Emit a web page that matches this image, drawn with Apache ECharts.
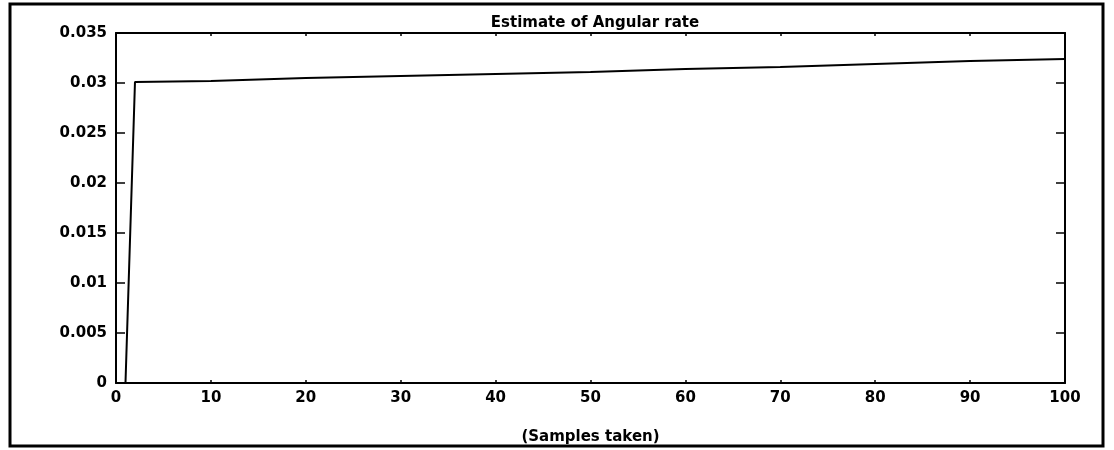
<!DOCTYPE html>
<html>
<head>
<meta charset="utf-8">
<script src="https://cdn.jsdelivr.net/npm/echarts@6/dist/echarts.min.js"></script>
<style>
html,body{margin:0;padding:0;background:#fff;}
#chart{width:1114px;height:450px;}
</style>
</head>
<body>
<div id="chart"></div>
<script>
var titleText = 'Estimate of Angular rate';
var xAxisName = '(Samples taken)';
var samples = [1, 2, 10, 20, 30, 40, 50, 60, 70, 80, 90, 100];
var rate = [0, 0.0301, 0.0302, 0.0305, 0.0307, 0.0309, 0.0311, 0.0314, 0.0316, 0.0319, 0.0322, 0.0324];
var yTickLabels = ['0', '0.005', '0.01', '0.015', '0.02', '0.025', '0.03', '0.035'];

var data = samples.map(function (s, i) { return [s, rate[i]]; });
var chart = echarts.init(document.getElementById('chart'), null, {renderer: 'canvas'});
var font = {fontFamily: 'DejaVu Sans', fontWeight: 'bold', fontSize: 15, color: '#000'};
var axisLineStyle = {show: true, onZero: false, lineStyle: {color: '#000', width: 2}};
chart.setOption({
  animation: false,
  backgroundColor: '#fff',
  title: {
    text: titleText, left: 590, top: 11, textAlign: 'center',
    textStyle: Object.assign({}, font, {fontSize: 15})
  },
  grid: {left: 116, right: 49, top: 33, bottom: 61},
  graphic: [{
    type: 'rect', shape: {x: 10, y: 4, width: 1093, height: 442},
    style: {fill: 'none', stroke: '#000', lineWidth: 3}, z: 100
  }],
  xAxis: [{
    type: 'value', min: 0, max: 100, interval: 10,
    name: xAxisName, nameLocation: 'middle', nameGap: 47,
    nameTextStyle: font,
    axisLine: axisLineStyle,
    axisTick: {inside: true, length: 3, lineStyle: {color: '#000', width: 1.5}},
    axisLabel: Object.assign({margin: 8}, font),
    splitLine: {show: false}
  }, {
    type: 'value', min: 0, max: 100, interval: 10, position: 'top',
    axisLine: axisLineStyle,
    axisTick: {inside: true, length: 3, lineStyle: {color: '#000', width: 1.5}},
    axisLabel: {show: false}, splitLine: {show: false}
  }],
  yAxis: [{
    type: 'value', min: 0, max: 0.035, interval: 0.005,
    axisLine: axisLineStyle,
    axisTick: {show: true, inside: true, length: 9, lineStyle: {color: '#000', width: 1.5}},
    axisLabel: Object.assign({margin: 9, formatter: function (v, i) { return yTickLabels[i]; }}, font),
    splitLine: {show: false}
  }, {
    type: 'value', min: 0, max: 0.035, interval: 0.005, position: 'right',
    axisLine: axisLineStyle,
    axisTick: {show: true, inside: true, length: 9, lineStyle: {color: '#000', width: 1.5}},
    axisLabel: {show: false}, splitLine: {show: false}
  }],
  series: [{
    type: 'line', data: data, showSymbol: false, symbol: 'none',
    lineStyle: {color: '#000', width: 2}
  }]
});
</script>
</body>
</html>
